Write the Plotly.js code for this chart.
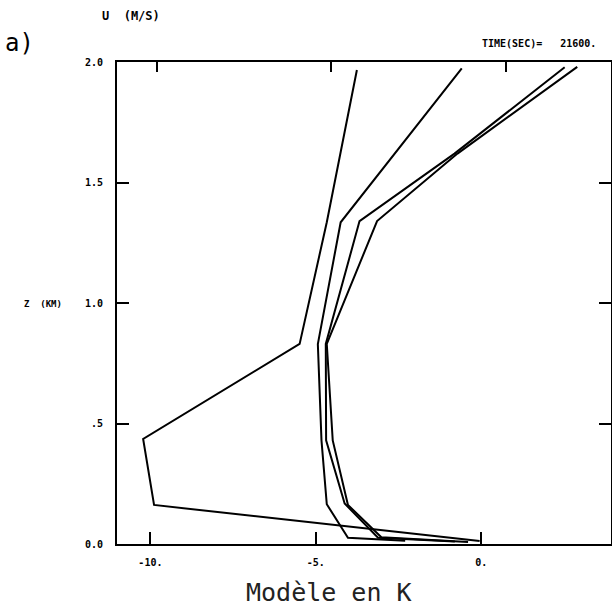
<!DOCTYPE html>
<html>
<head>
<meta charset="utf-8">
<script src="https://cdn.plot.ly/plotly-3.0.1.min.js"></script>
<style>html,body{margin:0;padding:0;background:#fff;}#chart{width:612px;height:615px;}</style>
</head>
<body>
<div id="chart"></div>
<script>
// Wind profiles U (m/s) vs height Z (km)
const uA = [-0.05, -9.89, -10.22, -5.49, -4.67, -3.76];
const zA = [0.012, 0.162, 0.436, 0.83, 1.335, 1.967];

const uB = [-2.3, -4.03, -4.67, -4.83, -4.94, -4.25, -0.59];
const zB = [0.014, 0.026, 0.165, 0.43, 0.83, 1.335, 1.974];

const uC = [-0.8, -3.12, -4.13, -4.69, -4.70, -3.68, -0.81, 2.52];
const zC = [0.01, 0.026, 0.168, 0.43, 0.83, 1.34, 1.62, 1.978];

const uD = [-0.4, -3.02, -4.03, -4.49, -4.67, -3.15, -0.72, 2.90];
const zD = [0.008, 0.028, 0.162, 0.43, 0.83, 1.34, 1.62, 1.98];

const xTickVals = [-10, -5, 0];
const xTickText = ['-10.', '-5.', '0.'];
const yTickVals = [0, 0.5, 1.0, 1.5, 2.0];
const yTickText = ['0.0', '.5', '1.0', '1.5', '2.0'];

const lineStyle = {color: '#000', width: 2};
const series = [[uA, zA], [uB, zB], [uC, zC], [uD, zD]];
const traces = series.map(s => ({
  x: s[0], y: s[1], type: 'scatter', mode: 'lines',
  line: lineStyle, showlegend: false, hoverinfo: 'skip'
}));
traces.push({x: [], y: [], xaxis: 'x2', type: 'scatter', mode: 'lines', showlegend: false});

const tickFont = {family: 'DejaVu Sans Mono', size: 10, color: '#000', weight: 'bold'};

const layout = {
  width: 612, height: 615,
  margin: {l: 117, r: 1, t: 62, b: 71, pad: 0},
  paper_bgcolor: '#fff', plot_bgcolor: '#fff',
  showlegend: false,
  xaxis: {
    range: [-11.01, 3.92], tickvals: xTickVals, ticktext: xTickText,
    ticks: 'inside', ticklen: 12, tickwidth: 2, tickcolor: '#000',
    showline: true, linewidth: 2, linecolor: '#000', mirror: true,
    showgrid: false, zeroline: false, tickfont: tickFont, ticklabelstandoff: 8
  },
  xaxis2: {
    overlaying: 'x', side: 'top', anchor: 'y',
    range: [-11.13, 2.99], tickvals: xTickVals,
    ticks: 'inside', ticklen: 10, tickwidth: 2, tickcolor: '#000',
    showticklabels: false, showline: false, showgrid: false, zeroline: false
  },
  yaxis: {
    range: [0, 2], tickvals: yTickVals, ticktext: yTickText,
    ticks: 'inside', ticklen: 12, tickwidth: 2, tickcolor: '#000',
    showline: true, linewidth: 2, linecolor: '#000', mirror: 'ticks',
    showgrid: false, zeroline: false, tickfont: tickFont, ticklabelstandoff: 10
  },
  annotations: [
    {text: 'a)', xref: 'paper', yref: 'paper', x: -0.1964, y: 1.0394,
     xanchor: 'center', yanchor: 'middle', showarrow: false,
     font: {family: 'DejaVu Sans Mono', size: 24, color: '#000'}},
    {text: 'U  (M/S)', xref: 'paper', yref: 'paper', x: (100 - 117) / 494, y: (544 - 16) / 482,
     xanchor: 'left', yanchor: 'middle', showarrow: false,
     font: {family: 'DejaVu Sans Mono', size: 12, color: '#000', weight: 'bold'}},
    {text: 'TIME(SEC)=   21600.', xref: 'paper', yref: 'paper', x: (598 - 117) / 494, y: (544 - 44) / 482,
     xanchor: 'right', yanchor: 'middle', showarrow: false,
     font: {family: 'DejaVu Sans Mono', size: 10, color: '#000', weight: 'bold'}},
    {text: 'Z  (KM)', xref: 'paper', yref: 'paper', x: (22 - 117) / 494, y: (544 - 304) / 482,
     xanchor: 'left', yanchor: 'middle', showarrow: false,
     font: {family: 'DejaVu Sans Mono', size: 9, color: '#000', weight: 'bold'}},
    {text: 'Modèle en K', xref: 'paper', yref: 'paper', x: (328.5 - 117) / 494, y: (544 - 592) / 482,
     xanchor: 'center', yanchor: 'middle', showarrow: false,
     font: {family: 'DejaVu Sans Mono', size: 25, color: '#222'}}
  ]
};

Plotly.newPlot('chart', traces, layout, {displayModeBar: false, staticPlot: true});
</script>
</body>
</html>
